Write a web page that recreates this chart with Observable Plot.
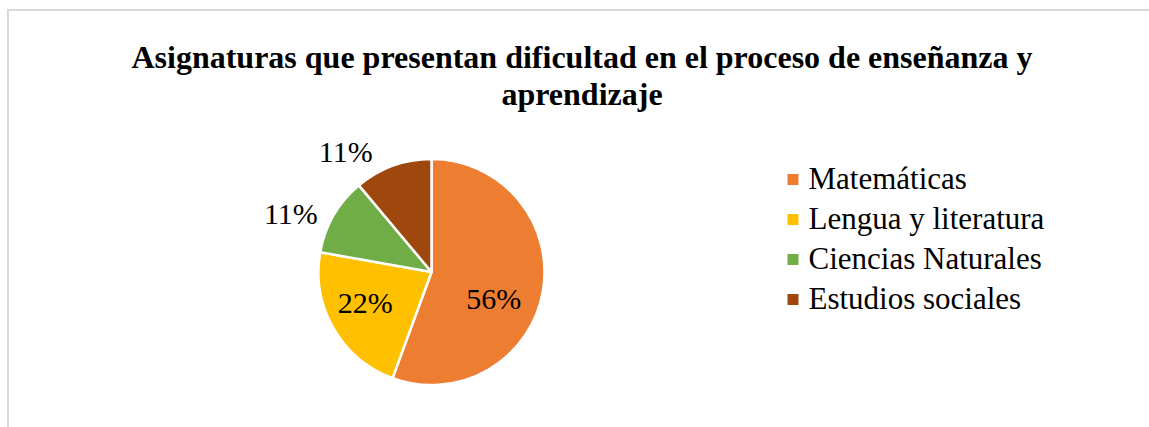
<!DOCTYPE html>
<html><head><meta charset="utf-8">
<script src="https://cdn.jsdelivr.net/npm/d3@7"></script>
<script src="https://cdn.jsdelivr.net/npm/@observablehq/plot@0.6"></script>
<style>
html,body{margin:0;padding:0;background:#fff;}
#chart{position:relative;width:1149px;height:427px;overflow:hidden;font-family:"Liberation Serif","Times New Roman",serif;}
#frame{position:absolute;left:7px;top:9px;width:1300px;height:600px;border-left:2px solid #d9d9d9;border-top:2px solid #d9d9d9;}
#title{position:absolute;left:0;width:1164px;top:39px;text-align:center;font-weight:bold;font-size:32px;line-height:37px;color:#000;}
#pie{position:absolute;left:0;top:130px;}
#legend{position:absolute;left:786px;top:157.5px;}
</style></head><body>
<div id="chart"><div id="frame"></div><div id="title"></div><div id="pie"></div><div id="legend"></div></div>
<script>
const titleLines = ["Asignaturas que presentan dificultad en el proceso de enseñanza y", "aprendizaje"];
const categories = ["Matemáticas", "Lengua y literatura", "Ciencias Naturales", "Estudios sociales"];
const shares = [55.6, 22.2, 11.1, 11.1];
const colors = ["#ED7D31", "#FFC000", "#70AD47", "#9E480E"];
const FONT = "Liberation Serif, Times New Roman, serif";

const title = d3.select("#title");
titleLines.forEach((t, i) => { if (i) title.append("br"); title.append("span").text(t); });

const data = categories.map((c, i) => ({category: c, share: shares[i]}));
const arcs = d3.pie().sort(null).value(d => d.share)(data);
arcs.forEach(a => { a.mid = (a.startAngle + a.endAngle) / 2; });
const color = Plot.scale({color: {type: "ordinal", domain: categories, range: colors}});

const slices = (index, scales) => {
  const cx = scales.x(0), cy = scales.y(0), R = scales.x(1) - scales.x(0);
  const arc = d3.arc().innerRadius(0).outerRadius(R);
  const g = d3.create("svg:g").attr("transform", `translate(${cx},${cy})`);
  g.selectAll("path").data(arcs).join("path")
    .attr("d", arc)
    .attr("fill", d => color.apply(d.data.category))
    .attr("stroke", "#fff")
    .attr("stroke-width", 2.5)
    .attr("stroke-linejoin", "round");
  return g.node();
};

const fmt = d3.format(".0f");
const lab = (i, f, dx, dy) => Plot.text([arcs[i]], {
  x: d => f * Math.sin(d.mid),
  y: d => f * Math.cos(d.mid),
  text: d => fmt(d.data.share) + "%",
  dx, dy, fontSize: 30, fontFamily: FONT, fill: "#000"
});

const pie = Plot.plot({
  width: 1149, height: 297, margin: 0,
  x: {domain: [-1, 1], range: [318.5, 544.5], axis: null},
  y: {domain: [-1, 1], range: [255, 29], axis: null},
  marks: [
    slices,
    lab(0, 0.6, -5, 15),
    lab(1, 0.6, -8, -3),
    lab(2, 1.3, -14, 15),
    lab(3, 1.3, -36, 18)
  ]
});
document.getElementById("pie").appendChild(pie);

const legend = Plot.plot({
  width: 330, height: 162, margin: 0,
  y: {type: "point", domain: categories, range: [0, 162], padding: 0.5, axis: null},
  color: {domain: categories, range: colors},
  marks: [
    Plot.dot(categories, {y: d => d, fill: d => d, symbol: "square", r: 6.2, frameAnchor: "left", dx: 6.5}),
    Plot.text(categories, {y: d => d, text: d => d, frameAnchor: "left", dx: 22, textAnchor: "start", fontSize: 31, fontFamily: FONT, fill: "#000"})
  ]
});
document.getElementById("legend").appendChild(legend);
</script></body></html>
